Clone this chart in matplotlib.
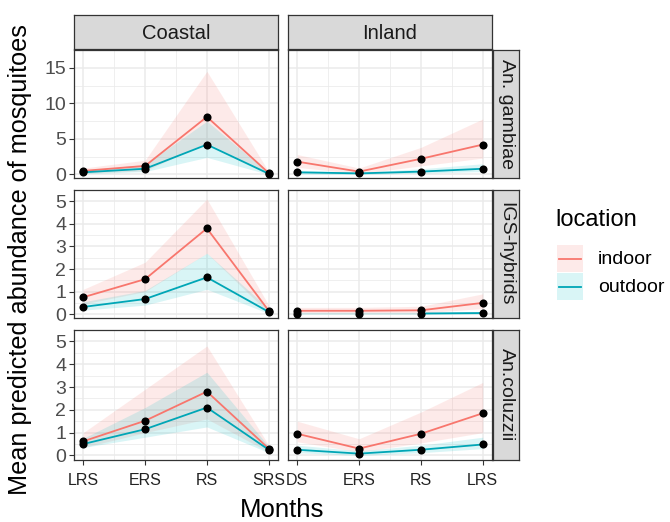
import matplotlib
matplotlib.use("Agg")
import matplotlib.pyplot as plt
import numpy as np
from matplotlib.patches import Rectangle
from matplotlib.lines import Line2D

plt.rcParams['font.family'] = ['Liberation Sans', 'DejaVu Sans']

# ---------------- data ----------------
coastal_months = ["LRS", "ERS", "RS", "SRS"]
inland_months = ["DS", "ERS", "RS", "LRS"]
regions = ["Coastal", "Inland"]
species = ["An. gambiae", "IGS-hybrids", "An.coluzzii"]
locations = ["indoor", "outdoor"]

# An. gambiae
gam_coastal_indoor = [0.5, 1.2, 8.1, 0.2]
gam_coastal_indoor_lo = [0.2, 0.5, 4.5, 0.0]
gam_coastal_indoor_hi = [0.9, 2.0, 14.5, 0.4]
gam_coastal_outdoor = [0.3, 0.8, 4.2, 0.1]
gam_coastal_outdoor_lo = [0.1, 0.4, 2.4, 0.0]
gam_coastal_outdoor_hi = [0.6, 1.4, 7.5, 0.2]
gam_inland_indoor = [1.8, 0.4, 2.2, 4.2]
gam_inland_indoor_lo = [1.0, 0.1, 1.2, 2.3]
gam_inland_indoor_hi = [2.8, 0.9, 3.8, 7.8]
gam_inland_outdoor = [0.3, 0.15, 0.4, 0.8]
gam_inland_outdoor_lo = [0.1, 0.0, 0.2, 0.4]
gam_inland_outdoor_hi = [0.6, 0.3, 0.8, 1.5]

# IGS-hybrids
igs_coastal_indoor = [0.75, 1.55, 3.8, 0.15]
igs_coastal_indoor_lo = [0.45, 1.0, 2.7, 0.05]
igs_coastal_indoor_hi = [1.1, 2.3, 5.1, 0.4]
igs_coastal_outdoor = [0.32, 0.67, 1.63, 0.1]
igs_coastal_outdoor_lo = [0.18, 0.4, 1.1, 0.03]
igs_coastal_outdoor_hi = [0.55, 1.05, 2.7, 0.25]
igs_inland_indoor = [0.15, 0.15, 0.17, 0.5]
igs_inland_indoor_lo = [0.05, 0.05, 0.05, 0.25]
igs_inland_indoor_hi = [0.3, 0.3, 0.35, 0.9]
igs_inland_outdoor = [np.nan, np.nan, 0.03, 0.05]
igs_inland_outdoor_lo = [0.0, 0.0, 0.0, 0.0]
igs_inland_outdoor_hi = [0.08, 0.08, 0.08, 0.12]
igs_inland_outdoor_pts = [0.02, 0.02, 0.02, 0.05]

# An.coluzzii
col_coastal_indoor = [0.62, 1.52, 2.8, 0.3]
col_coastal_indoor_lo = [0.35, 1.0, 1.6, 0.15]
col_coastal_indoor_hi = [1.0, 2.9, 4.8, 0.45]
col_coastal_outdoor = [0.5, 1.15, 2.1, 0.25]
col_coastal_outdoor_lo = [0.35, 0.8, 1.25, 0.12]
col_coastal_outdoor_hi = [0.75, 2.1, 3.65, 0.4]
col_inland_indoor = [0.95, 0.3, 0.95, 1.85]
col_inland_indoor_lo = [0.6, 0.15, 0.55, 1.0]
col_inland_indoor_hi = [1.5, 0.73, 1.9, 3.2]
col_inland_outdoor = [0.25, 0.08, 0.25, 0.48]
col_inland_outdoor_lo = [0.12, 0.0, 0.12, 0.3]
col_inland_outdoor_hi = [0.45, 0.2, 0.45, 0.8]

row_yticks = [[0, 5, 10, 15], [0, 1, 2, 3, 4, 5], [0, 1, 2, 3, 4, 5]]
row_ylims = [(-0.5, 15.6), (-0.17, 5.39), (-0.2, 5.04)]

panels = {
    (0, 0): (gam_coastal_indoor, gam_coastal_indoor_lo, gam_coastal_indoor_hi,
             gam_coastal_outdoor, gam_coastal_outdoor_lo, gam_coastal_outdoor_hi, gam_coastal_outdoor),
    (0, 1): (gam_inland_indoor, gam_inland_indoor_lo, gam_inland_indoor_hi,
             gam_inland_outdoor, gam_inland_outdoor_lo, gam_inland_outdoor_hi, gam_inland_outdoor),
    (1, 0): (igs_coastal_indoor, igs_coastal_indoor_lo, igs_coastal_indoor_hi,
             igs_coastal_outdoor, igs_coastal_outdoor_lo, igs_coastal_outdoor_hi, igs_coastal_outdoor),
    (1, 1): (igs_inland_indoor, igs_inland_indoor_lo, igs_inland_indoor_hi,
             igs_inland_outdoor, igs_inland_outdoor_lo, igs_inland_outdoor_hi, igs_inland_outdoor_pts),
    (2, 0): (col_coastal_indoor, col_coastal_indoor_lo, col_coastal_indoor_hi,
             col_coastal_outdoor, col_coastal_outdoor_lo, col_coastal_outdoor_hi, col_coastal_outdoor),
    (2, 1): (col_inland_indoor, col_inland_indoor_lo, col_inland_indoor_hi,
             col_inland_outdoor, col_inland_outdoor_lo, col_inland_outdoor_hi, col_inland_outdoor),
}

# ---------------- style ----------------
IN_COL = "#F8766D"
OUT_COL = "#00A6B6"
IN_FILL = "#F8766D"
OUT_FILL = "#00BFC4"
BORDER = "#333333"
STRIP = "#D9D9D9"
GRID = "#EBEBEB"
FILL_ALPHA = 0.15

W, H = 670, 522
fig = plt.figure(figsize=(W / 100, H / 100), dpi=100)

def fx(px):
    return px / W

def fy(py):
    return 1 - py / H

col_x = [(74, 278), (288, 492)]
row_y = [(50, 178), (190, 318), (330, 460)]

for r in range(3):
    for c in range(2):
        x0, x1 = col_x[c]
        y0, y1 = row_y[r]
        ax = fig.add_axes([fx(x0), fy(y1), fx(x1 - x0), (y1 - y0) / H])
        ind, ind_lo, ind_hi, out, out_lo, out_hi, out_pts = panels[(r, c)]
        xs = np.arange(4)
        ax.fill_between(xs, ind_lo, ind_hi, color=IN_FILL, alpha=FILL_ALPHA, lw=0, zorder=2)
        ax.fill_between(xs, out_lo, out_hi, color=OUT_FILL, alpha=FILL_ALPHA, lw=0, zorder=2)
        ax.plot(xs, ind, color=IN_COL, lw=1.3, zorder=3)
        ax.plot(xs, out, color=OUT_COL, lw=1.3, zorder=3)
        ax.scatter(xs, ind, s=34, color="black", zorder=4, lw=0)
        ax.scatter(xs, out_pts, s=34, color="black", zorder=4, lw=0)

        ax.set_xlim(-0.15, 3.15)
        ax.set_ylim(*row_ylims[r])
        ax.set_xticks(xs)
        ax.set_xticks([0.5, 1.5, 2.5], minor=True)
        yt = row_yticks[r]
        ax.set_yticks(yt)
        step = yt[1] - yt[0]
        ax.set_yticks([v + step / 2 for v in yt[:-1]] + [yt[-1] + step / 2], minor=True)
        ax.grid(True, which="major", color=GRID, lw=1.1, zorder=0)
        ax.grid(True, which="minor", color=GRID, lw=0.55, zorder=0)
        ax.set_axisbelow(True)
        for s in ax.spines.values():
            s.set_color(BORDER)
            s.set_linewidth(0.9)
        ax.tick_params(which="minor", length=0)
        ax.tick_params(which="major", length=3.5, width=0.8, color=BORDER)
        if c == 0:
            ax.set_yticklabels([str(v) for v in yt], fontsize=14, color="#4D4D4D")
            ax.tick_params(axis="y", pad=2)
        else:
            ax.tick_params(axis="y", which="major", length=0, labelleft=False)
        if r == 2:
            labels = coastal_months if c == 0 else inland_months
            ax.set_xticklabels(labels, fontsize=11.5, color="#222222")
            ax.tick_params(axis="x", pad=6)
        else:
            ax.tick_params(axis="x", which="major", length=0, labelbottom=False)

        # top strips
        if r == 0:
            sax = fig.add_axes([fx(x0), fy(49), fx(x1 - x0), 34 / H])
            sax.set_facecolor(STRIP)
            sax.set_xticks([]); sax.set_yticks([])
            for s in sax.spines.values():
                s.set_color(BORDER); s.set_linewidth(0.9)
            sax.text(0.5, 0.47, regions[c], ha="center", va="center", fontsize=14.5,
                     color="#1A1A1A", transform=sax.transAxes)
        # right strips
        if c == 1:
            sax = fig.add_axes([fx(493), fy(y1), fx(26), (y1 - y0) / H])
            sax.set_facecolor(STRIP)
            sax.set_xticks([]); sax.set_yticks([])
            for s in sax.spines.values():
                s.set_color(BORDER); s.set_linewidth(0.9)
            sax.text(0.5, 0.5, species[r], ha="center", va="center", fontsize=14,
                     color="#1A1A1A", rotation=-90, transform=sax.transAxes)

# axis titles
fig.text(fx(282), fy(510), "Months", ha="center", va="center", fontsize=18.5, color="black")
fig.text(fx(20), fy(260), "Mean predicted abundance of mosquitoes", ha="center", va="center",
         rotation=90, fontsize=18.2, color="black")

# legend (manual)
fig.text(fx(555), fy(220), "location", ha="left", va="center", fontsize=17, color="black")
for i, (lab, lc, fc) in enumerate([("indoor", IN_COL, IN_FILL), ("outdoor", OUT_COL, OUT_FILL)]):
    ytop = 245 + i * 28
    rect = Rectangle((fx(557), fy(ytop + 27)), fx(26), 27 / H, transform=fig.transFigure,
                     facecolor=fc, alpha=FILL_ALPHA, edgecolor="none")
    fig.patches.append(rect)
    fig.lines.append(Line2D([fx(559), fx(581)], [fy(ytop + 13.5)] * 2, transform=fig.transFigure,
                            color=lc, lw=1.3))
    fig.text(fx(598), fy(ytop + 14), lab, ha="left", va="center", fontsize=14, color="black")

fig.savefig("out.png", dpi=100)
